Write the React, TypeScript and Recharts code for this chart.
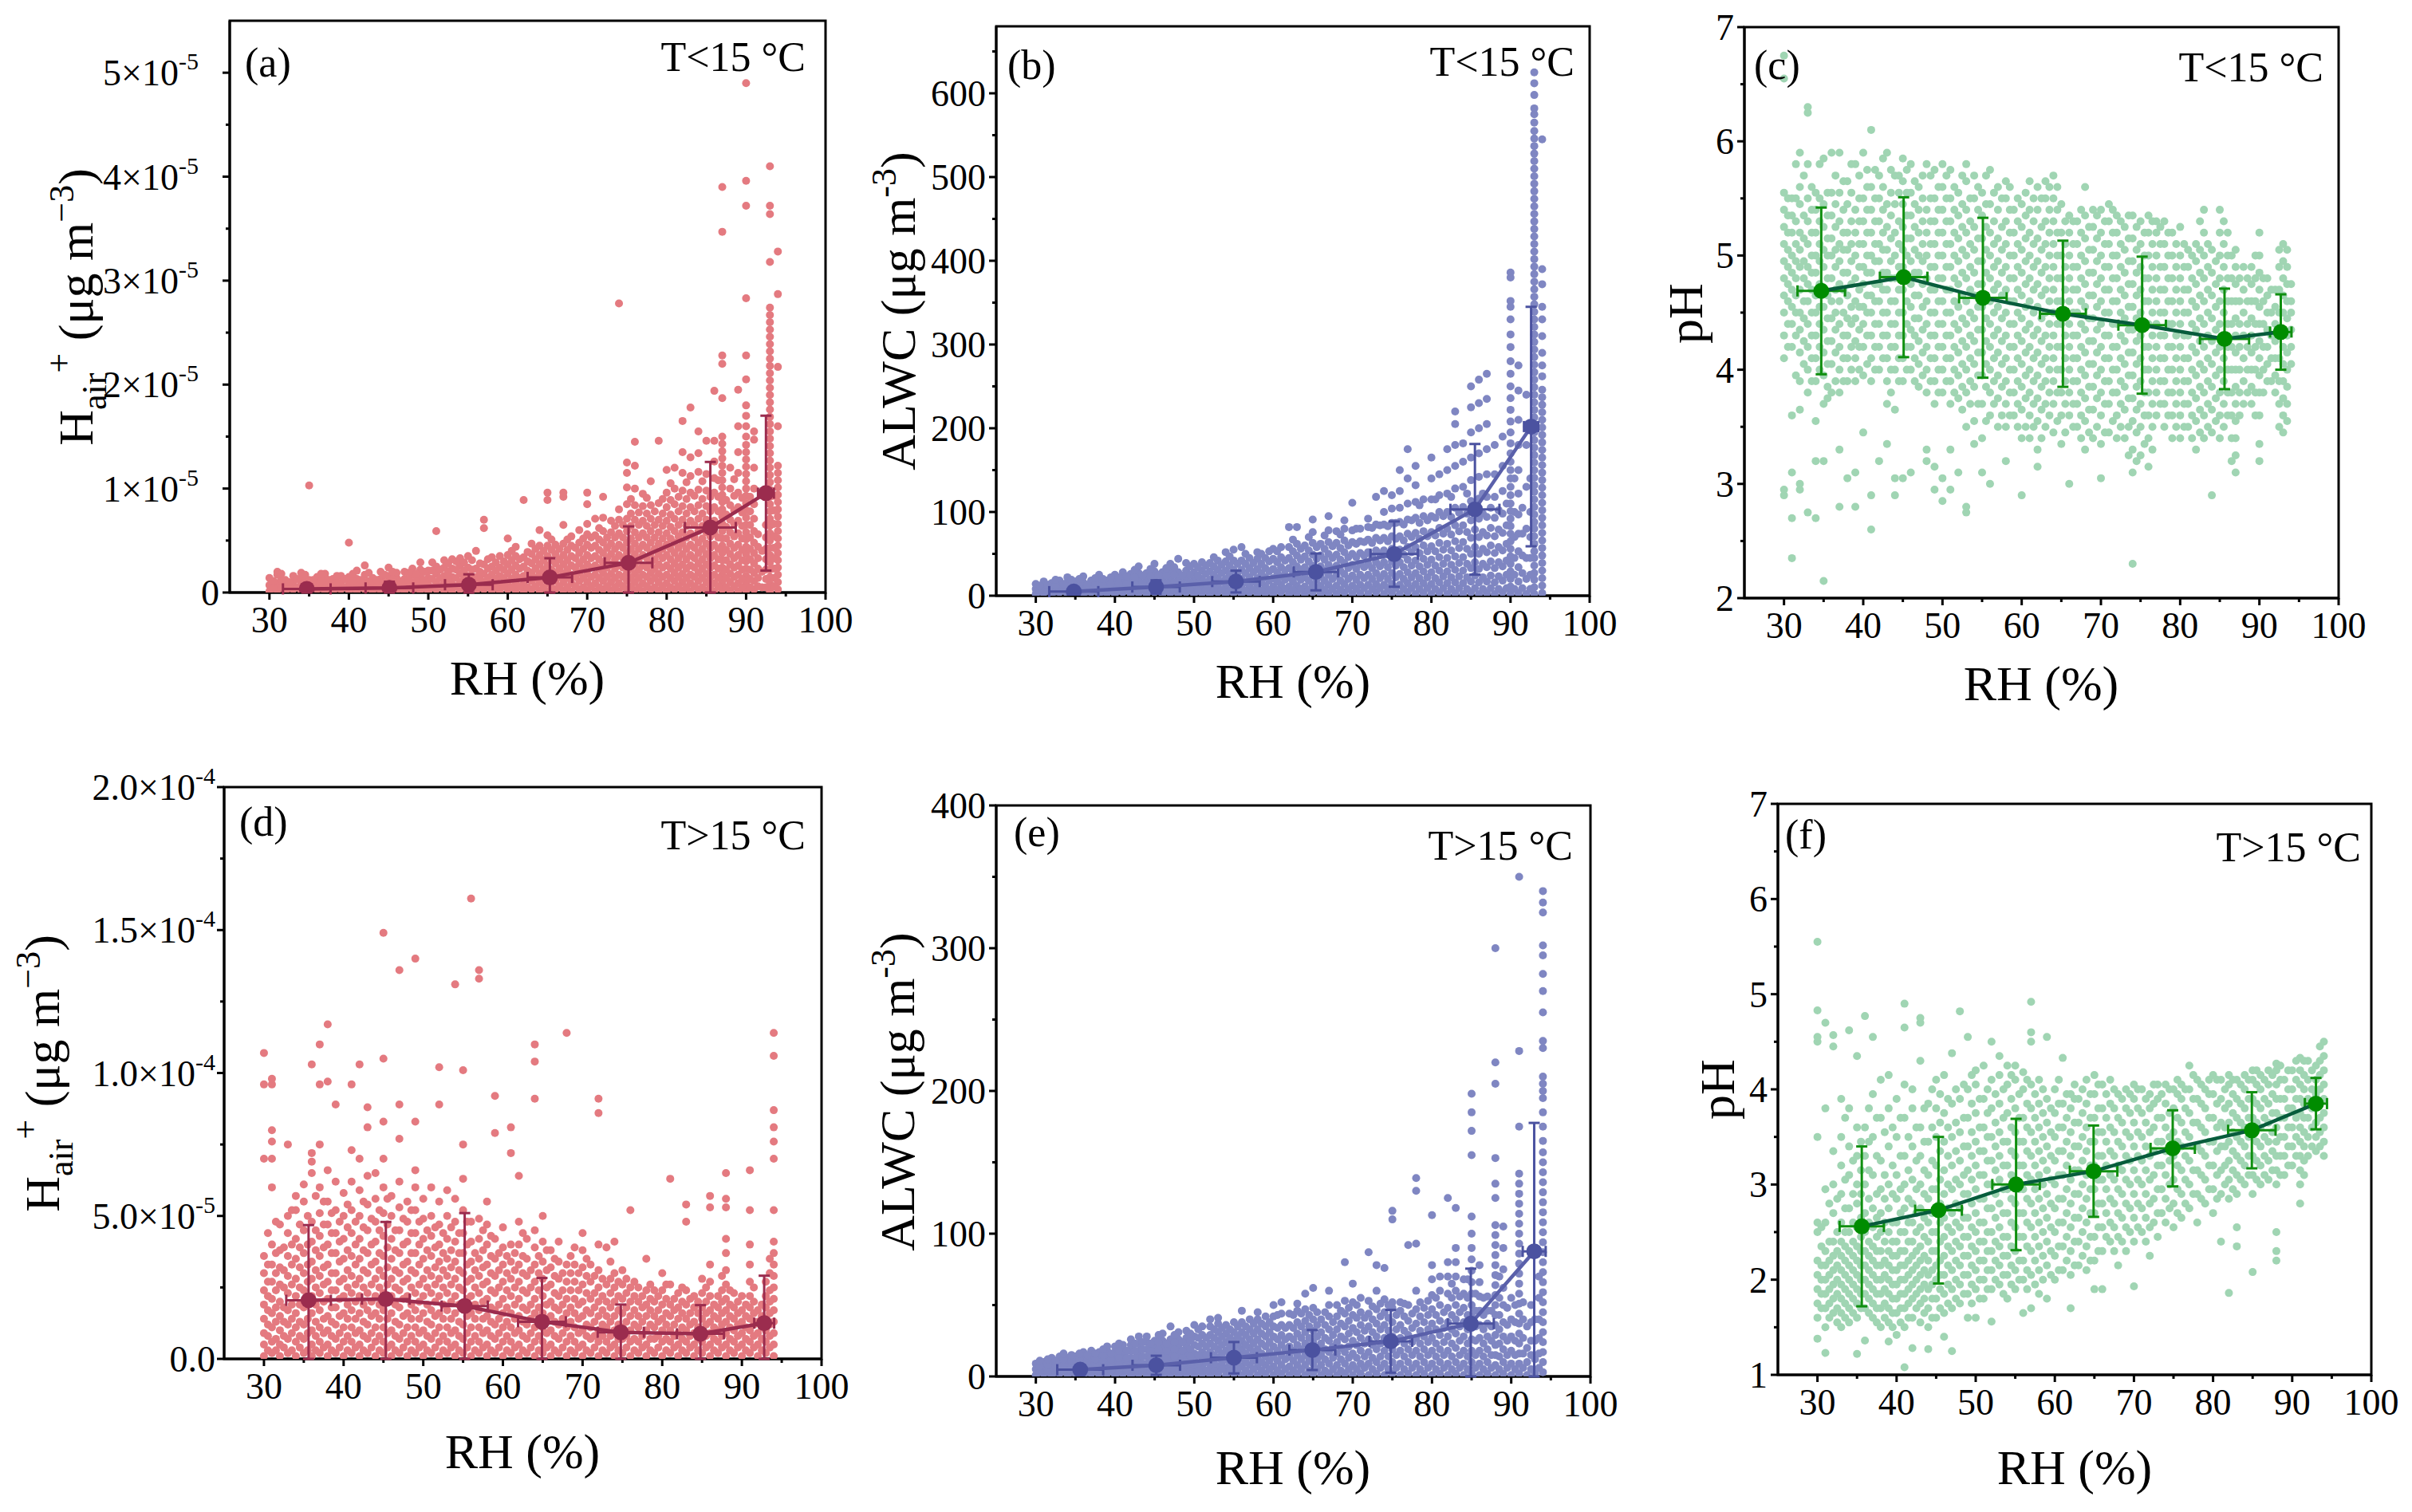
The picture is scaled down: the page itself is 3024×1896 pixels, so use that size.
import React from "react";
import { ScatterChart, Scatter, XAxis, YAxis, ErrorBar, ReferenceArea } from "recharts";

const FONT = "'Liberation Serif', 'Times New Roman', serif";

// ── shared axis ticks ────────────────────────────────────────────────────────
const rhTicks = [30, 35, 40, 45, 50, 55, 60, 65, 70, 75, 80, 85, 90, 95, 100];

// ── (a) H+air, T<15 °C  (values in 1e-6 µg m-3) ─────────────────────────────
const cloudA: [number, number[]][] = [
  [30, [0.1, 0.7, 1.4]], [31, [0.2, 0.9, 1.7, 2.0]], [32, [0.1, 0.6, 1.2]], [33, [0.3, 1.0, 1.6]],
  [34, [0.2, 0.8, 1.3, 1.9]], [35, [0.1, 0.6, 1.2, 10.3]], [36, [0.3, 0.9, 1.5]], [37, [0.2, 0.8, 1.4, 1.8]],
  [38, [0.1, 0.7, 1.3]], [39, [0.3, 0.9, 1.6]], [40, [0.2, 0.8, 1.5, 4.8]], [41, [0.1, 0.7, 1.3, 2.1]],
  [42, [0.3, 1.0, 1.7, 2.6]], [43, [0.2, 0.8, 1.4]], [44, [0.1, 0.7, 1.3, 2.0]], [45, [0.3, 0.9, 1.6, 2.4]],
  [46, [0.2, 0.8, 1.4, 1.9]], [47, [0.1, 0.7, 1.3, 2.0]], [48, [0.3, 1.0, 1.7, 2.3]], [49, [0.2, 0.8, 1.5, 2.2, 2.9]],
  [50, [0.1, 0.7, 1.4, 2.1]], [51, [0.3, 1.0, 1.8, 2.5, 5.9]], [52, [0.2, 0.9, 1.6, 2.4, 3.1]], [53, [0.1, 0.8, 1.5, 2.3, 3.2]],
  [54, [0.3, 1.0, 1.8, 2.6, 3.3]], [55, [0.2, 0.9, 1.6, 2.4, 3.5]], [56, [0.1, 0.8, 1.5, 2.3, 4.0]],
  [57, [0.3, 1.0, 1.8, 2.7, 6.2, 7.0]], [58, [0.2, 0.9, 1.7, 2.5, 3.4]], [59, [0.1, 0.8, 1.6, 2.4, 3.5]],
  [60, [0.3, 1.0, 1.8, 2.7, 3.6, 5.2]], [61, [0.2, 0.9, 1.7, 2.6, 3.5, 4.4]], [62, [0.1, 0.8, 1.6, 2.5, 3.4, 8.9]],
  [63, [0.3, 1.1, 1.9, 2.8, 3.7, 4.7]], [64, [0.2, 1.0, 1.8, 2.7, 3.6, 4.5, 6.0]],
  [65, [0.1, 0.9, 1.7, 2.6, 3.5, 4.5, 5.5, 8.9, 9.6]], [66, [0.3, 1.1, 1.9, 2.8, 3.7, 4.6]],
  [67, [0.2, 1.0, 1.8, 2.7, 3.6, 4.7, 6.5, 9.2, 9.6]], [68, [0.1, 0.9, 1.7, 2.6, 3.5, 4.5, 5.4]],
  [69, [0.3, 1.1, 1.9, 2.8, 3.8, 4.8, 6.0]], [70, [0.2, 1.0, 1.8, 2.7, 3.6, 4.6, 5.6, 6.6, 8.5, 9.6]],
  [71, [0.1, 0.9, 1.7, 2.6, 3.5, 4.5, 5.5, 7.1]], [72, [0.3, 1.1, 1.9, 2.8, 3.8, 4.8, 5.9, 7.2, 9.2]],
  [73, [0.2, 1.0, 1.8, 2.7, 3.7, 4.7, 5.8, 6.9]], [74, [0.1, 0.9, 1.7, 2.6, 3.6, 4.6, 5.7, 7.0, 8.0, 27.8]],
  [75, [0.3, 1.1, 1.9, 2.8, 3.8, 4.8, 5.9, 7.1, 8.5, 10.1, 11.5, 12.5]],
  [76, [0.2, 1.0, 1.8, 2.7, 3.7, 4.7, 5.8, 7.0, 8.4, 10.0, 12.2, 14.5]],
  [77, [0.1, 0.9, 1.7, 2.6, 3.6, 4.6, 5.7, 6.9, 8.3, 9.5]],
  [78, [0.3, 1.1, 1.9, 2.8, 3.8, 4.8, 5.9, 7.1, 8.4, 10.7]],
  [79, [0.2, 1.0, 1.8, 2.7, 3.7, 4.7, 5.8, 7.0, 8.6, 14.6]],
  [80, [0.1, 0.9, 1.7, 2.6, 3.6, 4.6, 5.7, 6.9, 8.2, 9.6, 11.8]],
  [81, [0.3, 1.1, 1.9, 2.8, 3.8, 4.8, 5.9, 7.1, 8.5, 10.0, 12.0]],
  [82, [0.2, 1.0, 1.8, 2.7, 3.7, 4.7, 5.8, 7.0, 8.3, 9.8, 11.5, 13.5, 16.5]],
  [83, [0.1, 0.9, 1.7, 2.6, 3.6, 4.6, 5.7, 6.9, 8.2, 9.6, 11.2, 13.0, 17.8]],
  [84, [0.3, 1.1, 1.9, 2.8, 3.8, 4.8, 5.9, 7.1, 8.4, 9.9, 11.6, 13.4, 15.5]],
  [85, [0.2, 1.0, 1.8, 2.7, 3.7, 4.7, 5.8, 7.0, 8.3, 9.8, 11.4, 14.6]],
  [86, [0.1, 0.9, 1.7, 2.6, 3.6, 4.6, 5.7, 6.9, 8.2, 9.6, 11.0, 12.6, 14.6, 19.4]],
  [87, [0.3, 1.0, 1.7, 2.4, 3.1, 3.8, 4.5, 5.2, 5.9, 6.6, 7.3, 8.0, 8.7, 9.4, 10.1, 10.8, 11.5, 12.2, 12.9, 13.6, 14.3, 15.0, 18.7, 22.0, 22.8, 34.7, 39.0]],
  [88, [0.2, 1.0, 1.8, 2.7, 3.7, 4.7, 5.8, 7.0, 8.4, 10.0, 12.0]],
  [89, [0.1, 0.9, 1.7, 2.6, 3.6, 4.6, 5.7, 6.9, 8.2, 9.6, 11.5, 13.5, 16.0, 19.5]],
  [90, [0.2, 0.9, 1.6, 2.3, 3.0, 3.7, 4.4, 5.1, 5.8, 6.5, 7.2, 7.9, 8.6, 9.3, 10.0, 10.7, 11.4, 12.1, 12.8, 13.5, 14.2, 15.0, 16.0, 17.0, 18.0, 20.5, 22.8, 28.3, 37.2, 39.6, 49.0]],
  [91, [0.3, 1.1, 1.9, 2.8, 3.8, 4.8, 5.9, 7.1, 8.5, 10.0, 12.0, 14.7, 15.5]],
  [92, [0.5, 2.0, 4.0]],
  [93, [0.1, 0.8, 1.5, 2.2, 2.9, 3.6, 4.3, 5.0, 5.7, 6.4, 7.1, 7.8, 8.5, 9.2, 9.9, 10.6, 11.3, 12.0, 12.7, 13.4, 14.1, 14.8, 15.5, 16.2, 16.9, 17.6, 18.3, 19.0, 19.7, 20.4, 21.1, 21.8, 22.5, 23.2, 23.9, 24.6, 25.3, 26.0, 26.7, 27.4, 31.8, 36.4, 37.2, 41.0]],
  [94, [0.3, 1.0, 1.7, 2.4, 3.1, 3.8, 4.5, 5.2, 5.9, 6.6, 7.3, 8.0, 8.7, 9.4, 10.1, 10.8, 11.5, 12.2, 16.0, 21.7, 28.7, 32.8]],
];
const cloudA2: [number, number[]][] = [
  [30.5, [0.4, 1.1]], [31.5, [0.5, 1.2, 1.8]], [32.5, [0.4, 1.0]], [33.5, [0.5, 1.3]], [34.5, [0.4, 1.1, 1.7]],
  [35.5, [0.5, 1.2]], [36.5, [0.4, 1.1, 1.8]], [37.5, [0.5, 1.2]], [38.5, [0.4, 1.0, 1.6]], [39.5, [0.5, 1.3]],
  [40.5, [0.4, 1.1, 1.8]], [41.5, [0.5, 1.2]], [42.5, [0.4, 1.1, 1.9]], [43.5, [0.5, 1.2]], [44.5, [0.4, 1.0, 1.7]],
  [45.5, [0.5, 1.3, 2.0]], [46.5, [0.4, 1.1]], [47.5, [0.5, 1.2, 1.9]], [48.5, [0.4, 1.1, 1.8]], [49.5, [0.5, 1.2, 2.0]],
  [50.5, [0.5, 1.3, 2.1, 2.9]], [51.5, [0.6, 1.4, 2.2]], [52.5, [0.5, 1.3, 2.0, 2.8]], [53.5, [0.6, 1.4, 2.2, 3.0]],
  [54.5, [0.5, 1.3, 2.1, 2.9]], [55.5, [0.6, 1.4, 2.2, 3.1]], [56.5, [0.5, 1.3, 2.0, 2.8]], [57.5, [0.6, 1.4, 2.3, 3.2]],
  [58.5, [0.5, 1.3, 2.1, 2.9]], [59.5, [0.6, 1.4, 2.2, 3.0]], [60.5, [0.5, 1.3, 2.2, 3.1, 4.0]],
  [61.5, [0.6, 1.4, 2.3, 3.2]], [62.5, [0.5, 1.3, 2.1, 3.0, 3.9]], [63.5, [0.6, 1.4, 2.3, 3.2, 4.2]],
  [64.5, [0.5, 1.3, 2.2, 3.1, 4.0]], [65.5, [0.5, 1.4, 2.2, 3.1, 4.1, 5.1]], [66.5, [0.6, 1.5, 2.3, 3.2, 4.2]],
  [67.5, [0.5, 1.4, 2.2, 3.1, 4.1, 5.1]], [68.5, [0.6, 1.5, 2.4, 3.3, 4.3]], [69.5, [0.5, 1.4, 2.3, 3.2, 4.2, 5.2]],
  [70.5, [0.6, 1.5, 2.4, 3.3, 4.3, 5.3]], [71.5, [0.5, 1.4, 2.3, 3.2, 4.1, 5.1, 6.2]],
  [72.5, [0.6, 1.5, 2.4, 3.3, 4.3, 5.3]], [73.5, [0.5, 1.4, 2.3, 3.2, 4.2, 5.3, 6.4]],
  [74.5, [0.6, 1.5, 2.4, 3.3, 4.3, 5.3, 6.5]], [75.5, [0.6, 1.4, 2.3, 3.2, 4.2, 5.2, 6.4, 7.6, 9.0]],
  [76.5, [0.5, 1.4, 2.2, 3.2, 4.2, 5.3, 6.5, 7.7]], [77.5, [0.6, 1.5, 2.4, 3.3, 4.3, 5.3, 6.4, 7.6, 9.1]],
  [78.5, [0.5, 1.4, 2.3, 3.2, 4.2, 5.3, 6.5, 7.8]], [79.5, [0.6, 1.5, 2.4, 3.3, 4.2, 5.2, 6.4, 7.6, 9.0]],
  [80.5, [0.5, 1.4, 2.3, 3.2, 4.2, 5.2, 6.3, 7.5, 8.9, 10.5]], [81.5, [0.6, 1.5, 2.4, 3.3, 4.3, 5.4, 6.5, 7.8, 9.2]],
  [82.5, [0.5, 1.4, 2.3, 3.2, 4.2, 5.3, 6.4, 7.6, 9.0, 10.6]], [83.5, [0.6, 1.5, 2.4, 3.3, 4.3, 5.3, 6.5, 7.8, 9.3]],
  [84.5, [0.5, 1.4, 2.3, 3.2, 4.2, 5.2, 6.4, 7.6, 9.0, 10.7]], [85.5, [0.6, 1.5, 2.4, 3.3, 4.3, 5.4, 6.5, 7.8, 9.2]],
  [86.5, [0.6, 1.4, 2.3, 3.2, 4.2, 5.3, 6.5, 7.8, 9.2, 10.8]], [87.5, [0.5, 1.4, 2.2, 3.1, 4.1, 5.2, 6.3, 7.5, 8.9]],
  [88.5, [0.6, 1.5, 2.4, 3.3, 4.3, 5.4, 6.6, 7.9, 9.3, 10.9]], [89.5, [0.5, 1.3, 2.2, 3.1, 4.1, 5.2, 6.4, 7.7, 9.1]],
  [90.5, [0.5, 1.3, 2.2, 3.2, 4.2, 5.3, 6.5, 7.8, 9.2]], [91.5, [0.6, 1.4, 2.3, 3.3, 4.4, 5.6]],
  [92.5, [0.5, 1.3, 2.2, 3.2, 4.2, 5.3, 6.5]], [93.5, [0.6, 1.4, 2.3, 3.3, 4.3, 5.4, 6.6, 7.9, 9.3]],
];
const meanRhA = [34.7, 45.1, 55.1, 65.3, 75.2, 85.5, 92.5];
const meanA = [0.35, 0.44, 0.75, 1.45, 2.86, 6.26, 9.56];
const sdA = [0.4, 0.6, 1.0, 1.85, 3.5, 6.3, 7.45];
const sdRhA = [3.0, 3.0, 3.0, 2.8, 3.0, 3.2, 1.0];

// ── (b) ALWC, T<15 °C ───────────────────────────────────────────────────────
const cloudB: [number, number[]][] = [
  [30, [2, 8, 14]], [31, [3, 10, 17]], [32, [2, 9, 15]], [33, [4, 11, 18]], [34, [2, 9, 16, 22]],
  [35, [3, 10, 17]], [36, [2, 9, 16, 23]], [37, [4, 11, 18]], [38, [2, 9, 17, 25]], [39, [3, 10, 18]],
  [40, [2, 9, 17, 25]], [41, [4, 12, 20, 28]], [42, [2, 10, 18, 26]], [43, [3, 11, 19, 27, 35]],
  [44, [2, 10, 18, 27]], [45, [4, 12, 20, 29, 38]], [46, [2, 10, 19, 28]], [47, [3, 11, 20, 29, 38]],
  [48, [2, 10, 19, 28, 44]], [49, [4, 12, 21, 30, 39]], [50, [2, 10, 19, 28, 38]], [51, [3, 11, 20, 30, 40]],
  [52, [2, 10, 19, 29, 39]], [53, [4, 12, 21, 31, 42]], [54, [2, 10, 20, 30, 41, 52]], [55, [3, 11, 21, 31, 42, 55]],
  [56, [2, 10, 20, 31, 42, 58]], [57, [4, 12, 22, 33, 45]], [58, [2, 11, 21, 32, 44, 52]], [59, [3, 12, 22, 33, 45]],
  [60, [2, 11, 21, 32, 44, 56]], [61, [4, 13, 23, 34, 46, 58]], [62, [2, 11, 22, 33, 45, 58, 82]],
  [63, [3, 12, 23, 35, 48, 62, 82]], [64, [2, 11, 22, 34, 47, 60]], [65, [4, 13, 24, 36, 49, 63, 76, 91]],
  [66, [2, 12, 23, 35, 48, 62]], [67, [3, 13, 25, 37, 50, 64, 78, 95]], [68, [2, 12, 24, 36, 49, 63, 77]],
  [69, [4, 14, 26, 39, 52, 66, 80, 90]], [70, [2, 12, 24, 37, 50, 64, 78, 111]], [71, [3, 13, 25, 38, 51, 65, 80]],
  [72, [2, 13, 25, 38, 52, 67, 82, 92]], [73, [4, 14, 27, 40, 54, 69, 85, 118]],
  [74, [2, 13, 26, 40, 54, 69, 85, 100, 125]], [75, [3, 14, 27, 41, 56, 71, 87, 104, 120]],
  [76, [2, 13, 26, 40, 55, 71, 88, 105, 125, 150]], [77, [4, 15, 28, 43, 58, 74, 91, 110, 140, 175]],
  [78, [2, 14, 27, 42, 58, 75, 93, 112, 132, 155]], [79, [3, 15, 29, 44, 60, 77, 95, 115]],
  [80, [2, 14, 28, 43, 59, 76, 95, 115, 140, 165]], [81, [4, 16, 30, 46, 63, 81, 100, 120, 145]],
  [82, [2, 15, 29, 45, 62, 80, 100, 122, 150, 175]], [83, [3, 16, 31, 47, 65, 84, 105, 128, 155, 180, 205, 220]],
  [84, [2, 15, 30, 46, 64, 84, 106, 130, 160, 182]], [85, [4, 17, 33, 50, 69, 90, 113, 138, 165, 195, 225, 250]],
  [86, [2, 16, 32, 50, 70, 92, 116, 142, 170, 200, 230, 258]], [87, [3, 17, 34, 52, 72, 94, 118, 145, 175, 205, 235, 265]],
  [88, [2, 16, 33, 51, 71, 93, 118, 145, 180]], [89, [4, 18, 35, 54, 75, 98, 125, 155, 190]],
  [90, [2, 11, 20, 29, 38, 47, 56, 65, 74, 83, 92, 101, 110, 120, 130, 140, 150, 160, 170, 182, 195, 208, 222, 236, 250, 265, 280, 297, 312, 330, 345, 352, 380, 386]],
  [91, [3, 17, 34, 53, 74, 97, 122, 150, 180, 210, 245, 275]],
  [92, [2, 20, 45, 80, 130, 180, 240]],
  [93, [2, 10, 19, 27, 36, 45, 53, 62, 71, 80, 88, 97, 106, 115, 124, 132, 141, 150, 159, 168, 177, 186, 195, 204, 213, 222, 231, 240, 249, 258, 267, 276, 285, 294, 303, 312, 321, 330, 339, 348, 357, 366, 375, 384, 393, 402, 411, 420, 429, 438, 447, 456, 465, 474, 483, 492, 501, 510, 519, 528, 537, 546, 555, 565, 575, 582, 598, 612, 625]],
  [94, [3, 12, 21, 30, 39, 48, 57, 66, 75, 84, 93, 102, 111, 120, 129, 138, 147, 156, 165, 174, 183, 192, 201, 210, 219, 228, 237, 246, 262, 275, 290, 310, 330, 345, 372, 390, 545]],
];
const cloudB2: [number, number[]][] = [
  [30.5, [5, 12]], [31.5, [6, 13]], [32.5, [5, 12, 19]], [33.5, [6, 14]], [34.5, [5, 12, 19]],
  [35.5, [6, 13, 20]], [36.5, [5, 13]], [37.5, [6, 14, 21]], [38.5, [5, 13, 20]], [39.5, [6, 14, 22]],
  [40.5, [6, 14, 22]], [41.5, [7, 15, 23]], [42.5, [6, 14, 22, 31]], [43.5, [7, 15, 24]], [44.5, [6, 14, 23, 32]],
  [45.5, [7, 16, 25]], [46.5, [6, 15, 24, 33]], [47.5, [7, 16, 25, 34]], [48.5, [6, 15, 24]], [49.5, [7, 16, 25, 35]],
  [50.5, [6, 15, 24, 34]], [51.5, [7, 16, 26, 36]], [52.5, [6, 15, 25, 35, 46]], [53.5, [7, 17, 27, 37]],
  [54.5, [6, 16, 26, 36, 47]], [55.5, [7, 17, 27, 38]], [56.5, [6, 16, 27, 38, 50]], [57.5, [7, 17, 28, 39]],
  [58.5, [6, 16, 27, 38, 50]], [59.5, [7, 18, 29, 41, 53]], [60.5, [7, 17, 28, 40, 53]], [61.5, [8, 19, 30, 42]],
  [62.5, [7, 17, 28, 40, 53, 67]], [63.5, [8, 19, 31, 43, 56]], [64.5, [7, 18, 29, 41, 54, 70]],
  [65.5, [8, 19, 31, 44, 58]], [66.5, [7, 18, 30, 43, 56, 72]], [67.5, [8, 20, 32, 45, 59]],
  [68.5, [7, 18, 30, 43, 57, 73]], [69.5, [8, 20, 33, 46, 60]], [70.5, [8, 19, 32, 46, 62, 80]],
  [71.5, [9, 21, 34, 48, 64]], [72.5, [8, 20, 33, 47, 63, 81]], [73.5, [9, 21, 35, 50, 66, 84]],
  [74.5, [8, 20, 34, 49, 65, 83]], [75.5, [9, 22, 36, 51, 68, 87]], [76.5, [8, 20, 34, 49, 66, 85]],
  [77.5, [9, 22, 36, 52, 70, 90]], [78.5, [8, 21, 35, 51, 68, 87, 108]], [79.5, [9, 22, 37, 53, 71, 90]],
  [80.5, [8, 21, 36, 53, 72, 93, 115]], [81.5, [9, 23, 38, 55, 74, 95]], [82.5, [8, 22, 37, 54, 73, 94, 118]],
  [83.5, [9, 23, 39, 57, 77, 99]], [84.5, [8, 22, 38, 56, 76, 98, 122]], [85.5, [9, 24, 40, 58, 79, 102]],
  [86.5, [8, 22, 38, 56, 76, 98, 122]], [87.5, [9, 24, 41, 60, 81, 105]], [88.5, [8, 23, 40, 58, 79, 102]],
  [89.5, [9, 25, 42, 62, 84, 110]], [90.5, [8, 25, 45, 70, 100, 140]], [91.5, [9, 27, 48, 74, 105]],
  [92.5, [8, 25, 45, 70, 100, 140]],
];
const meanRhB = [34.8, 45.2, 55.3, 65.4, 75.3, 85.5, 92.6];
const meanB = [4.9, 10.4, 16.9, 28.4, 49.7, 103.2, 202];
const sdB = [3, 8, 13, 22, 39, 78, 143];
const sdRhB = [3.1, 3.0, 3.0, 2.8, 3.0, 3.1, 0.9];

// ── (c) pH, T<15 °C ─────────────────────────────────────────────────────────
const cloudC: [number, number[]][] = [
  [30, [4.1, 4.3, 4.5, 4.65, 4.8, 4.95, 5.1, 5.25, 5.4, 5.55, 2.9, 2.95, 6.55, 6.75]],
  [31, [3.6, 4.2, 4.4, 4.55, 4.7, 4.85, 5.0, 5.2, 5.35, 5.5, 2.35, 2.7, 3.1]],
  [32, [3.65, 3.9, 4.15, 4.35, 4.5, 4.7, 4.9, 5.05, 5.2, 5.45, 5.6, 5.9, 2.95, 3.0]],
  [33, [3.8, 4.0, 4.2, 4.4, 4.6, 4.75, 4.9, 5.1, 5.3, 5.5, 5.8, 2.75, 6.25, 6.3]],
  [34, [3.9, 4.1, 4.3, 4.5, 4.65, 4.85, 5.0, 5.2, 5.4, 5.55, 2.7, 3.2, 3.55]],
  [35, [3.7, 3.95, 4.15, 4.35, 4.55, 4.7, 4.9, 5.05, 5.25, 5.45, 5.85, 2.15, 3.2]],
  [36, [3.8, 4.05, 4.25, 4.45, 4.6, 4.8, 5.0, 5.15, 5.35, 5.55, 5.9]],
  [37, [3.8, 4.0, 4.2, 4.4, 4.6, 4.75, 4.95, 5.1, 5.3, 5.55, 5.9, 2.8, 3.3]],
  [38, [3.9, 4.1, 4.3, 4.45, 4.65, 4.85, 5.05, 5.2, 5.45, 5.65, 3.05]],
  [39, [3.9, 4.1, 4.25, 4.45, 4.6, 4.8, 5.0, 5.2, 5.4, 5.8, 2.8, 3.1]],
  [40, [3.95, 4.2, 4.4, 4.55, 4.75, 4.9, 5.1, 5.3, 5.5, 5.9, 3.45]],
  [41, [3.9, 4.1, 4.3, 4.5, 4.65, 4.85, 5.0, 5.2, 5.4, 5.6, 6.1, 2.6, 2.9]],
  [42, [4.0, 4.2, 4.4, 4.6, 4.75, 4.95, 5.1, 5.3, 5.5, 5.7, 3.2]],
  [43, [3.7, 3.9, 4.1, 4.3, 4.5, 4.7, 4.85, 5.05, 5.25, 5.45, 5.9, 3.35]],
  [44, [3.65, 4.0, 4.2, 4.4, 4.6, 4.8, 5.0, 5.2, 5.45, 5.7, 2.9, 3.05]],
  [45, [3.9, 4.1, 4.3, 4.5, 4.7, 4.9, 5.05, 5.25, 5.45, 5.65, 5.85, 3.05]],
  [46, [4.0, 4.2, 4.35, 4.55, 4.75, 4.95, 5.15, 5.35, 5.55, 5.8, 3.1]],
  [47, [3.85, 4.05, 4.25, 4.45, 4.65, 4.85, 5.0, 5.2, 5.4, 5.6]],
  [48, [3.8, 4.0, 4.2, 4.4, 4.6, 4.8, 5.0, 5.2, 5.4, 5.8, 3.2, 3.3]],
  [49, [3.7, 3.9, 4.1, 4.3, 4.5, 4.7, 4.9, 5.1, 5.3, 5.5, 5.75, 2.95, 3.15]],
  [50, [3.8, 4.0, 4.2, 4.4, 4.6, 4.8, 5.0, 5.2, 5.4, 5.6, 5.8, 2.85, 3.05]],
  [51, [3.7, 3.9, 4.1, 4.3, 4.5, 4.7, 4.9, 5.1, 5.3, 5.5, 5.75, 3.3, 2.95]],
  [52, [3.75, 3.95, 4.15, 4.35, 4.55, 4.75, 4.95, 5.15, 5.35, 5.55, 3.1]],
  [53, [3.5, 3.8, 4.0, 4.2, 4.4, 4.6, 4.8, 5.0, 5.2, 5.4, 5.65, 5.8, 2.8, 2.75]],
  [54, [3.55, 3.85, 4.05, 4.25, 4.45, 4.65, 4.85, 5.05, 5.25, 5.5, 5.7, 3.35]],
  [55, [3.4, 3.7, 3.95, 4.15, 4.35, 4.55, 4.75, 4.95, 5.15, 5.35, 5.55, 3.1]],
  [56, [3.6, 3.8, 4.0, 4.2, 4.4, 4.6, 4.8, 5.0, 5.2, 5.45, 5.75, 3.0]],
  [57, [3.5, 3.75, 3.95, 4.15, 4.35, 4.55, 4.75, 4.95, 5.15, 5.4, 5.6]],
  [58, [3.5, 3.7, 3.9, 4.1, 4.3, 4.5, 4.7, 4.9, 5.1, 5.3, 5.5, 5.65, 3.2]],
  [59, [3.6, 3.8, 4.0, 4.2, 4.4, 4.6, 4.8, 5.0, 5.2, 5.4]],
  [60, [3.4, 3.65, 3.85, 4.05, 4.25, 4.45, 4.65, 4.85, 5.05, 5.25, 5.45, 2.9]],
  [61, [3.4, 3.6, 3.8, 4.0, 4.2, 4.4, 4.6, 4.8, 5.0, 5.2, 5.4, 5.65]],
  [62, [3.3, 3.55, 3.75, 3.95, 4.15, 4.35, 4.55, 4.75, 4.95, 5.15, 5.4, 5.6, 3.15]],
  [63, [3.5, 3.7, 3.9, 4.1, 4.3, 4.5, 4.7, 4.9, 5.1, 5.3, 5.5, 5.65]],
  [64, [3.45, 3.7, 3.9, 4.1, 4.3, 4.5, 4.7, 4.9, 5.1, 5.3, 5.5, 5.7]],
  [65, [3.35, 3.6, 3.8, 4.0, 4.2, 4.4, 4.6, 4.8, 5.0, 5.2, 5.45]],
  [66, [3.6, 3.8, 4.0, 4.2, 4.4, 4.6, 4.8, 5.0, 5.2, 5.35, 3.0]],
  [67, [3.5, 3.7, 3.9, 4.1, 4.3, 4.5, 4.7, 4.9, 5.1, 5.3]],
  [68, [3.3, 3.55, 3.75, 3.95, 4.15, 4.35, 4.55, 4.75, 4.95, 5.15, 5.35, 5.6]],
  [69, [3.4, 3.65, 3.85, 4.05, 4.25, 4.45, 4.65, 4.85, 5.05, 5.25, 5.4]],
  [70, [3.35, 3.6, 3.8, 4.0, 4.2, 4.4, 4.6, 4.8, 5.0, 5.2, 5.4, 3.05]],
  [71, [3.45, 3.7, 3.9, 4.1, 4.3, 4.5, 4.7, 4.9, 5.1, 5.3, 5.45]],
  [72, [3.4, 3.6, 3.8, 4.0, 4.2, 4.4, 4.6, 4.8, 5.0, 5.2, 5.35]],
  [73, [3.4, 3.65, 3.85, 4.05, 4.25, 4.45, 4.65, 4.85, 5.05, 5.25]],
  [74, [3.1, 3.3, 3.55, 3.75, 3.95, 4.15, 4.35, 4.55, 4.75, 4.95, 5.15, 5.35, 2.3]],
  [75, [3.25, 3.5, 3.7, 3.9, 4.1, 4.3, 4.5, 4.7, 4.9, 5.1, 5.3]],
  [76, [3.15, 3.4, 3.6, 3.8, 4.0, 4.2, 4.4, 4.6, 4.8, 5.0, 5.2, 5.35]],
  [77, [3.6, 3.8, 4.0, 4.2, 4.4, 4.6, 4.8, 5.0, 5.2, 5.3]],
  [78, [3.5, 3.7, 3.9, 4.1, 4.3, 4.5, 4.7, 4.9, 5.1, 5.3]],
  [79, [3.4, 3.6, 3.8, 4.0, 4.2, 4.4, 4.6, 4.8, 5.0, 5.2]],
  [80, [3.4, 3.6, 3.8, 4.0, 4.2, 4.4, 4.6, 4.8, 5.0, 5.25]],
  [81, [3.5, 3.7, 3.9, 4.1, 4.3, 4.5, 4.7, 4.9, 5.05]],
  [82, [3.3, 3.55, 3.75, 3.95, 4.15, 4.35, 4.55, 4.75, 4.95, 5.1]],
  [83, [3.4, 3.6, 3.8, 4.0, 4.2, 4.4, 4.6, 4.8, 5.0, 5.2, 5.4]],
  [84, [3.45, 3.65, 3.85, 4.05, 4.25, 4.45, 4.65, 4.85, 5.05, 2.9]],
  [85, [3.4, 3.6, 3.8, 4.0, 4.2, 4.4, 4.6, 4.8, 5.0, 5.2, 5.4]],
  [86, [3.6, 3.8, 4.0, 4.2, 4.4, 4.6, 4.8, 5.0, 5.2]],
  [87, [3.1, 3.25, 3.4, 3.55, 3.7, 3.85, 4.0, 4.15, 4.3, 4.45, 4.6, 4.75, 4.9, 5.05]],
  [88, [3.7, 3.9, 4.1, 4.3, 4.5, 4.7, 4.9]],
  [89, [3.7, 3.85, 4.0, 4.15, 4.3, 4.45, 4.6, 4.75, 4.9]],
  [90, [3.2, 3.35, 3.6, 3.8, 3.95, 4.1, 4.25, 4.4, 4.55, 4.7, 4.85, 5.0, 5.2]],
  [91, [3.9, 4.05, 4.2, 4.35, 4.5, 4.65, 4.8]],
  [92, [3.8, 3.95, 4.1, 4.25, 4.4, 4.55, 4.7]],
  [93, [3.45, 3.6, 3.75, 3.9, 4.05, 4.2, 4.35, 4.5, 4.65, 4.8, 4.95, 5.1]],
  [94, [4.05, 4.2, 4.35, 4.5, 4.6, 4.75]],
];
const cloudC2: [number, number[]][] = [
  [30.5, [4.2, 4.4, 4.6, 4.75, 4.9, 5.05, 5.2, 5.35, 5.5]],
  [31.5, [3.95, 4.3, 4.5, 4.65, 4.8, 4.95, 5.1, 5.3, 5.5, 5.8]],
  [32.5, [4.05, 4.25, 4.45, 4.6, 4.8, 4.95, 5.15, 5.35, 5.7]],
  [33.5, [3.9, 4.1, 4.3, 4.5, 4.7, 4.85, 5.0, 5.2, 5.4, 5.6]],
  [34.5, [4.0, 4.2, 4.4, 4.55, 4.75, 4.95, 5.1, 5.3, 5.5, 5.8]],
  [35.5, [3.75, 3.85, 4.05, 4.25, 4.45, 4.65, 4.8, 5.0, 5.15, 5.35, 5.55]],
  [36.5, [3.9, 4.15, 4.35, 4.5, 4.7, 4.9, 5.05, 5.25, 5.45, 5.7]],
  [37.5, [3.9, 4.1, 4.3, 4.5, 4.7, 4.85, 5.05, 5.2, 5.4, 5.65]],
  [38.5, [4.0, 4.2, 4.4, 4.55, 4.75, 4.95, 5.1, 5.3, 5.55, 5.8]],
  [39.5, [4.0, 4.2, 4.35, 4.55, 4.7, 4.9, 5.1, 5.3, 5.5, 5.7]],
  [40.5, [4.05, 4.3, 4.5, 4.65, 4.85, 5.0, 5.2, 5.4, 5.6, 5.75]],
  [41.5, [4.0, 4.2, 4.4, 4.6, 4.75, 4.95, 5.1, 5.3, 5.5, 5.75]],
  [42.5, [4.1, 4.3, 4.5, 4.7, 4.85, 5.05, 5.2, 5.4, 5.6, 5.85]],
  [43.5, [3.8, 4.0, 4.2, 4.4, 4.6, 4.8, 4.95, 5.15, 5.35, 5.55, 5.75]],
  [44.5, [3.9, 4.1, 4.3, 4.5, 4.7, 4.9, 5.1, 5.3, 5.55, 5.7]],
  [45.5, [4.0, 4.2, 4.4, 4.6, 4.8, 5.0, 5.15, 5.35, 5.55, 5.75]],
  [46.5, [3.9, 4.1, 4.3, 4.45, 4.65, 4.85, 5.05, 5.25, 5.45, 5.65]],
  [47.5, [3.95, 4.15, 4.35, 4.55, 4.75, 4.95, 5.1, 5.3, 5.5, 5.7]],
  [48.5, [3.9, 4.1, 4.3, 4.5, 4.7, 4.9, 5.1, 5.3, 5.5, 5.7]],
  [49.5, [3.8, 4.0, 4.2, 4.4, 4.6, 4.8, 5.0, 5.2, 5.4, 5.6]],
  [50.5, [3.9, 4.1, 4.3, 4.5, 4.7, 4.9, 5.1, 5.3, 5.5, 5.7]],
  [51.5, [3.8, 4.0, 4.2, 4.4, 4.6, 4.8, 5.0, 5.2, 5.4, 5.6]],
  [52.5, [3.65, 3.85, 4.05, 4.25, 4.45, 4.65, 4.85, 5.05, 5.25, 5.45, 5.7]],
  [53.5, [3.7, 3.9, 4.1, 4.3, 4.5, 4.7, 4.9, 5.1, 5.3, 5.5]],
  [54.5, [3.7, 3.95, 4.15, 4.35, 4.55, 4.75, 4.95, 5.15, 5.4, 5.6]],
  [55.5, [3.55, 3.85, 4.05, 4.25, 4.45, 4.65, 4.85, 5.05, 5.25, 5.45, 5.7]],
  [56.5, [3.7, 3.9, 4.1, 4.3, 4.5, 4.7, 4.9, 5.1, 5.3, 5.55]],
  [57.5, [3.6, 3.85, 4.05, 4.25, 4.45, 4.65, 4.85, 5.05, 5.25, 5.5]],
  [58.5, [3.6, 3.8, 4.0, 4.2, 4.4, 4.6, 4.8, 5.0, 5.2, 5.4, 5.6]],
  [59.5, [3.5, 3.7, 3.9, 4.1, 4.3, 4.5, 4.7, 4.9, 5.1, 5.3, 5.5]],
  [60.5, [3.5, 3.75, 3.95, 4.15, 4.35, 4.55, 4.75, 4.95, 5.15, 5.35, 5.55]],
  [61.5, [3.5, 3.7, 3.9, 4.1, 4.3, 4.5, 4.7, 4.9, 5.1, 5.3, 5.5]],
  [62.5, [3.4, 3.65, 3.85, 4.05, 4.25, 4.45, 4.65, 4.85, 5.05, 5.25, 5.5]],
  [63.5, [3.6, 3.8, 4.0, 4.2, 4.4, 4.6, 4.8, 5.0, 5.2, 5.4, 5.6]],
  [64.5, [3.55, 3.8, 4.0, 4.2, 4.4, 4.6, 4.8, 5.0, 5.2, 5.4, 5.6]],
  [65.5, [3.45, 3.7, 3.9, 4.1, 4.3, 4.5, 4.7, 4.9, 5.1, 5.3]],
  [66.5, [3.5, 3.7, 3.9, 4.1, 4.3, 4.5, 4.7, 4.9, 5.1, 5.3]],
  [67.5, [3.4, 3.6, 3.8, 4.0, 4.2, 4.4, 4.6, 4.8, 5.0, 5.2, 5.4]],
  [68.5, [3.45, 3.65, 3.85, 4.05, 4.25, 4.45, 4.65, 4.85, 5.05, 5.25]],
  [69.5, [3.5, 3.75, 3.95, 4.15, 4.35, 4.55, 4.75, 4.95, 5.15, 5.35]],
  [70.5, [3.45, 3.7, 3.9, 4.1, 4.3, 4.5, 4.7, 4.9, 5.1, 5.3]],
  [71.5, [3.55, 3.8, 4.0, 4.2, 4.4, 4.6, 4.8, 5.0, 5.2, 5.4]],
  [72.5, [3.5, 3.7, 3.9, 4.1, 4.3, 4.5, 4.7, 4.9, 5.1, 5.3]],
  [73.5, [3.25, 3.5, 3.75, 3.95, 4.15, 4.35, 4.55, 4.75, 4.95, 5.15, 5.35]],
  [74.5, [3.2, 3.45, 3.65, 3.85, 4.05, 4.25, 4.45, 4.65, 4.85, 5.05, 5.25]],
  [75.5, [3.35, 3.6, 3.8, 4.0, 4.2, 4.4, 4.6, 4.8, 5.0, 5.2]],
  [76.5, [3.3, 3.5, 3.7, 3.9, 4.1, 4.3, 4.5, 4.7, 4.9, 5.1, 5.3]],
  [77.5, [3.7, 3.9, 4.1, 4.3, 4.5, 4.7, 4.9, 5.1, 5.25]],
  [78.5, [3.6, 3.8, 4.0, 4.2, 4.4, 4.6, 4.8, 5.0, 5.2]],
  [79.5, [3.5, 3.7, 3.9, 4.1, 4.3, 4.5, 4.7, 4.9, 5.1]],
  [80.5, [3.5, 3.7, 3.9, 4.1, 4.3, 4.5, 4.7, 4.9, 5.1]],
  [81.5, [3.4, 3.6, 3.8, 4.0, 4.2, 4.4, 4.6, 4.8, 5.0]],
  [82.5, [3.45, 3.65, 3.85, 4.05, 4.25, 4.45, 4.65, 4.85, 5.05, 5.3]],
  [83.5, [3.5, 3.7, 3.9, 4.1, 4.3, 4.5, 4.7, 4.9, 5.1]],
  [84.5, [3.55, 3.75, 3.95, 4.15, 4.35, 4.55, 4.75, 4.95]],
  [85.5, [3.5, 3.7, 3.9, 4.1, 4.3, 4.5, 4.7, 4.9, 5.1, 5.3]],
  [86.5, [3.2, 3.4, 3.6, 3.8, 4.0, 4.2, 4.4, 4.6, 4.8, 5.0]],
  [87.5, [3.6, 3.8, 4.0, 4.2, 4.4, 4.6, 4.8]],
  [88.5, [3.8, 4.0, 4.2, 4.4, 4.6, 4.8]],
  [89.5, [3.6, 3.8, 4.0, 4.2, 4.4, 4.6, 4.8, 5.0]],
  [90.5, [3.8, 4.0, 4.2, 4.4, 4.6, 4.8]],
  [91.5, [3.9, 4.1, 4.3, 4.5, 4.7]],
  [92.5, [3.5, 3.7, 3.9, 4.1, 4.3, 4.5, 4.7, 4.9, 5.05]],
  [93.5, [3.55, 3.7, 3.85, 4.0, 4.15, 4.3, 4.45, 4.6, 4.75, 4.9, 5.05]],
];
const meanRhC = [34.7, 45.1, 55.1, 65.2, 75.2, 85.6, 92.7];
const meanC = [4.69, 4.81, 4.63, 4.49, 4.39, 4.27, 4.33];
const sdC = [0.73, 0.7, 0.7, 0.64, 0.6, 0.44, 0.33];
const sdRhC = [3.0, 3.0, 3.0, 2.9, 3.0, 3.1, 1.35];

// ── (d) H+air, T>15 °C  (values in 1e-6 µg m-3) ─────────────────────────────
const cloudD: [number, number[]][] = [
  [30, [1, 5, 9, 14, 19, 24, 30, 36, 70, 96, 107]], [31, [2, 6, 11, 16, 21, 27, 33, 40, 60, 70, 76, 80, 96, 98]],
  [32, [1, 5, 10, 15, 20, 26, 32, 38, 47]], [33, [2, 7, 12, 17, 23, 29, 36, 44, 50, 75]],
  [34, [1, 6, 11, 16, 22, 28, 35, 42, 52, 57]], [35, [2, 7, 12, 18, 24, 30, 37, 45, 55, 61]],
  [36, [1, 5, 10, 16, 22, 28, 34, 41, 48, 65, 69, 72, 103]], [37, [2, 6, 11, 17, 23, 29, 36, 43, 51, 60, 75, 96, 110]],
  [38, [1, 5, 10, 15, 21, 27, 33, 40, 47, 55, 66, 97, 117]], [39, [2, 7, 12, 18, 24, 30, 37, 44, 52, 62, 89]],
  [40, [1, 6, 11, 16, 22, 28, 35, 42, 50, 58]], [41, [2, 6, 11, 17, 23, 29, 36, 44, 52, 62, 73, 96]],
  [42, [1, 5, 10, 16, 22, 28, 35, 42, 50, 59, 70, 103]], [43, [2, 7, 12, 17, 23, 30, 37, 45, 54, 64, 81, 88]],
  [44, [1, 6, 11, 16, 22, 28, 34, 41, 48, 56, 65]], [45, [2, 6, 11, 17, 23, 29, 36, 43, 51, 60, 70, 83, 105, 149]],
  [46, [1, 5, 10, 16, 22, 28, 35, 42, 50, 57]], [47, [2, 7, 12, 18, 24, 30, 37, 45, 53, 62, 77, 89, 136]],
  [48, [1, 6, 11, 16, 22, 28, 34, 41, 48, 55]], [49, [2, 6, 11, 17, 23, 30, 37, 44, 52, 60, 66, 83, 140]],
  [50, [1, 5, 10, 16, 22, 28, 35, 42, 49, 56]], [51, [2, 7, 12, 17, 23, 29, 36, 43, 50, 60]],
  [52, [1, 6, 11, 16, 22, 28, 34, 40, 47, 55, 89, 102]], [53, [2, 6, 11, 17, 23, 29, 35, 42, 50, 59]],
  [54, [1, 5, 10, 16, 22, 28, 34, 41, 48, 56, 131]], [55, [2, 7, 12, 18, 24, 30, 37, 44, 52, 63, 75, 101]],
  [56, [1, 6, 11, 16, 22, 28, 34, 41, 48, 161]], [57, [2, 6, 11, 17, 23, 29, 35, 42, 49, 133, 136]],
  [58, [1, 5, 10, 15, 21, 27, 33, 40, 47, 55]], [59, [2, 7, 12, 17, 23, 29, 35, 42, 79, 92]],
  [60, [1, 6, 11, 16, 21, 27, 33, 39, 46]], [61, [2, 6, 11, 16, 22, 28, 34, 40, 72, 81]],
  [62, [1, 5, 10, 15, 21, 27, 33, 40, 48, 64]], [63, [2, 7, 12, 17, 23, 29, 35, 42]],
  [64, [1, 6, 11, 16, 21, 27, 33, 39, 45, 91, 104, 110]], [65, [2, 6, 11, 16, 22, 28, 34, 41, 50]],
  [66, [1, 5, 10, 15, 20, 26, 32, 38]], [67, [2, 7, 12, 17, 22, 28, 34, 41]],
  [68, [1, 6, 11, 16, 21, 27, 33, 114]], [69, [2, 6, 11, 16, 21, 27, 33, 39]],
  [70, [1, 5, 10, 15, 20, 26, 32, 38, 44]], [71, [2, 7, 11, 16, 21, 27, 33]],
  [72, [1, 6, 10, 15, 20, 25, 31, 40, 86, 91]], [73, [2, 6, 11, 15, 20, 26, 39]],
  [74, [1, 5, 10, 15, 20, 25, 30, 41]], [75, [2, 7, 11, 16, 21, 26, 31]],
  [76, [1, 6, 10, 15, 20, 25, 52]], [77, [2, 6, 11, 15, 20, 25]],
  [78, [1, 5, 10, 15, 19, 24, 35]], [79, [2, 7, 11, 15, 20, 24]],
  [80, [1, 6, 10, 14, 19, 24, 30]], [81, [2, 6, 10, 15, 19, 26, 63]],
  [82, [1, 5, 9, 14, 18, 23]], [83, [2, 6, 10, 14, 19, 24, 48, 54]],
  [84, [1, 5, 9, 13, 18, 22]], [85, [2, 6, 10, 14, 18, 23, 28]],
  [86, [1, 5, 9, 13, 17, 22, 27, 33, 53, 57]], [87, [2, 6, 10, 14, 18, 22]],
  [88, [1, 5, 9, 13, 17, 21, 26, 31, 37, 42, 53, 56, 65]], [89, [2, 6, 10, 14, 18, 23]],
  [90, [1, 5, 9, 13, 17, 22]], [91, [2, 6, 10, 14, 18, 22, 27, 33, 40, 52, 66]],
  [92, [1, 5, 9, 13, 17]], [93, [2, 6, 10, 14, 18, 22, 27]],
  [94, [1, 5, 9, 13, 17, 21, 25, 29, 33, 37, 41, 52, 70, 76, 81, 87, 106, 114]],
];
const cloudD2: [number, number[]][] = [
  [30.5, [3, 8, 12, 17, 22, 27, 33, 44]], [31.5, [3, 7, 13, 18, 24, 30, 37, 48]], [32.5, [4, 8, 13, 18, 25, 31, 39]],
  [33.5, [3, 9, 14, 19, 26, 33, 40, 52]], [34.5, [4, 8, 13, 19, 25, 32, 39, 47]], [35.5, [3, 9, 14, 20, 27, 33, 40, 50]],
  [36.5, [3, 8, 13, 19, 25, 31, 38, 45, 57]], [37.5, [4, 9, 14, 20, 26, 32, 39, 47, 55]],
  [38.5, [3, 8, 13, 18, 24, 30, 37, 44, 51]], [39.5, [4, 9, 15, 21, 27, 34, 41, 48]],
  [40.5, [3, 8, 14, 19, 25, 31, 38, 46, 54]], [41.5, [4, 9, 14, 20, 26, 33, 40, 48]],
  [42.5, [3, 8, 13, 19, 25, 31, 38, 46, 55]], [43.5, [4, 9, 15, 20, 26, 33, 40, 49]],
  [44.5, [3, 8, 14, 19, 25, 31, 37, 45, 52]], [45.5, [4, 9, 14, 20, 26, 32, 39, 47, 56]],
  [46.5, [3, 8, 13, 19, 25, 31, 38, 45]], [47.5, [4, 9, 15, 21, 27, 33, 40, 49]],
  [48.5, [3, 8, 14, 19, 25, 31, 37, 44, 52]], [49.5, [4, 9, 14, 20, 26, 33, 40, 48]],
  [50.5, [3, 8, 13, 19, 25, 31, 38, 45]], [51.5, [4, 9, 15, 20, 26, 32, 39, 46]],
  [52.5, [3, 8, 14, 19, 25, 31, 37, 44]], [53.5, [4, 9, 14, 20, 26, 32, 38, 46]],
  [54.5, [3, 8, 13, 19, 25, 31, 37, 44]], [55.5, [4, 9, 15, 21, 27, 33, 40, 48]],
  [56.5, [3, 8, 14, 19, 25, 31, 37]], [57.5, [4, 9, 14, 20, 26, 32, 38, 45]],
  [58.5, [3, 8, 13, 18, 24, 30, 36, 43]], [59.5, [4, 9, 14, 19, 25, 31, 37]],
  [60.5, [3, 8, 13, 18, 24, 30, 36]], [61.5, [4, 9, 14, 19, 25, 31, 37]],
  [62.5, [3, 8, 13, 18, 24, 30, 36, 44]], [63.5, [4, 9, 14, 19, 25, 31]],
  [64.5, [3, 8, 13, 18, 24, 30, 36]], [65.5, [4, 9, 14, 19, 25, 31, 38]],
  [66.5, [3, 8, 13, 18, 23, 29, 35]], [67.5, [4, 9, 14, 19, 24, 30]],
  [68.5, [3, 8, 13, 18, 24, 30, 36]], [69.5, [4, 9, 14, 19, 24, 30]],
  [70.5, [3, 8, 12, 17, 23, 29, 35]], [71.5, [4, 8, 13, 18, 23, 29]],
  [72.5, [3, 8, 12, 17, 22, 28]], [73.5, [4, 8, 13, 18, 23, 28, 34]],
  [74.5, [3, 7, 12, 17, 22, 27]], [75.5, [4, 8, 13, 18, 23, 28]],
  [76.5, [3, 7, 12, 17, 22, 27]], [77.5, [4, 8, 13, 18, 22]],
  [78.5, [3, 7, 12, 17, 21, 26]], [79.5, [4, 8, 13, 17, 22]],
  [80.5, [3, 7, 12, 16, 21, 26]], [81.5, [4, 8, 12, 17, 21]],
  [82.5, [3, 7, 11, 16, 20, 25]], [83.5, [4, 8, 12, 16, 21]],
  [84.5, [3, 7, 11, 16, 20]], [85.5, [4, 8, 12, 16, 20, 25]],
  [86.5, [3, 7, 11, 15, 19]], [87.5, [4, 8, 12, 16, 20, 24, 29]],
  [88.5, [3, 7, 11, 15, 19, 24]], [89.5, [4, 8, 12, 16, 20]],
  [90.5, [3, 7, 11, 15, 19]], [91.5, [4, 8, 12, 16, 20, 25]],
  [92.5, [3, 7, 11, 15, 19]], [93.5, [4, 8, 12, 16, 20, 24, 30, 35]],
];
const meanRhD = [35.6, 45.3, 55.2, 64.9, 74.8, 84.8, 92.8];
const meanD = [20.5, 20.9, 18.5, 13.0, 9.3, 8.8, 12.5];
const sdD = [26.3, 27, 32.5, 15.3, 9.7, 10, 16.6];
const sdRhD = [2.8, 3.0, 2.9, 3.0, 2.9, 2.95, 1.25];

// ── (e) ALWC, T>15 °C ───────────────────────────────────────────────────────
const cloudE: [number, number[]][] = [
  [30, [1, 5, 9]], [31, [2, 6, 10]], [32, [1, 5, 9, 13]], [33, [2, 6, 10, 14]], [34, [1, 5, 9, 13]],
  [35, [2, 6, 10, 14]], [36, [1, 5, 9, 13, 17]], [37, [2, 6, 10, 14, 18]], [38, [1, 5, 9, 13, 17]],
  [39, [2, 6, 10, 14, 18, 21]], [40, [1, 5, 9, 13, 17, 21]], [41, [2, 6, 10, 14, 18, 22]],
  [42, [1, 5, 9, 13, 18, 22, 26]], [43, [2, 6, 10, 14, 18, 23, 28]], [44, [1, 5, 9, 14, 19, 24, 28]],
  [45, [2, 6, 10, 15, 20, 25]], [46, [1, 5, 10, 15, 20, 25, 30]], [47, [2, 6, 11, 16, 21, 26, 35]],
  [48, [1, 6, 11, 16, 21, 26, 31]], [49, [2, 7, 12, 17, 22, 27, 32]], [50, [1, 6, 11, 16, 22, 28, 36]],
  [51, [2, 7, 12, 17, 23, 29, 35]], [52, [1, 6, 11, 17, 23, 29, 35, 40]], [53, [2, 7, 13, 19, 25, 31, 37, 41]],
  [54, [1, 6, 12, 18, 24, 30, 36]], [55, [2, 7, 13, 19, 25, 31, 38]], [56, [1, 7, 13, 19, 25, 31, 38, 46]],
  [57, [2, 8, 14, 20, 26, 33, 40]], [58, [1, 7, 13, 19, 26, 33, 40, 45]], [59, [2, 8, 14, 21, 28, 35, 42]],
  [60, [1, 7, 14, 21, 28, 35, 42, 50]], [61, [2, 8, 15, 22, 29, 36, 44, 52]], [62, [1, 7, 14, 21, 28, 36, 44]],
  [63, [2, 8, 15, 22, 30, 38, 46, 51]], [64, [1, 8, 15, 23, 31, 39, 47, 58]], [65, [2, 9, 16, 24, 32, 40, 48, 62]],
  [66, [1, 8, 15, 23, 31, 40]], [67, [2, 9, 17, 25, 33, 42, 50, 60]], [68, [1, 8, 16, 24, 33, 42, 50]],
  [69, [2, 9, 17, 26, 35, 44, 53, 80]], [70, [1, 8, 16, 25, 34, 43, 52, 65]], [71, [2, 9, 18, 27, 36, 45, 55]],
  [72, [1, 9, 17, 26, 35, 44, 53, 87]], [73, [2, 10, 19, 28, 37, 47, 60, 78]], [74, [1, 9, 18, 27, 36, 45, 54, 76]],
  [75, [2, 10, 19, 28, 38, 48, 52, 110, 116]], [76, [1, 9, 18, 27, 36, 46, 52]], [77, [2, 10, 19, 29, 39, 50, 92]],
  [78, [1, 9, 18, 27, 37, 47, 60, 93, 130, 139]], [79, [2, 10, 19, 28, 38, 48]],
  [80, [1, 9, 18, 27, 37, 47, 57, 68, 78, 113]], [81, [2, 10, 19, 29, 39, 50, 60, 70]],
  [82, [1, 9, 18, 28, 38, 48, 58, 70, 80, 125]], [83, [2, 10, 20, 30, 40, 50, 60, 70, 80, 90, 118]],
  [84, [1, 9, 18, 28, 38, 48, 58, 68]],
  [85, [2, 10, 18, 26, 34, 42, 50, 58, 66, 74, 82, 90, 100, 112, 155, 172, 185, 198]],
  [86, [1, 9, 18, 27, 36, 46, 56, 66, 78]], [87, [2, 10, 19, 28, 37, 46, 56]],
  [88, [1, 8, 15, 22, 29, 36, 43, 50, 57, 64, 71, 78, 85, 92, 99, 106, 125, 135, 153, 205, 220, 300]],
  [89, [2, 10, 19, 28, 38, 50, 62, 75, 90, 105]], [90, [1, 9, 18, 28, 40, 55]],
  [91, [2, 9, 16, 23, 30, 37, 44, 51, 58, 65, 72, 79, 86, 93, 100, 107, 114, 121, 128, 135, 142, 175, 228, 350]],
  [92, [1, 10, 20, 35]], [93, [2, 12, 25, 40]],
  [94, [3, 10, 17, 24, 31, 38, 45, 52, 59, 66, 73, 80, 87, 94, 101, 108, 115, 122, 129, 136, 143, 150, 157, 165, 175, 185, 195, 200, 205, 210, 230, 235, 255, 270, 282, 295, 302, 325, 332, 340]],
];
const cloudE2: [number, number[]][] = [
  [30.5, [3, 7, 11]], [31.5, [3, 8, 12]], [32.5, [3, 7, 11]], [33.5, [4, 8, 12, 16]], [34.5, [3, 7, 11, 15]],
  [35.5, [4, 8, 12, 16]], [36.5, [3, 7, 11, 15]], [37.5, [4, 8, 12, 16]], [38.5, [3, 7, 11, 15, 19]],
  [39.5, [4, 8, 12, 16]], [40.5, [3, 8, 13, 18, 23]], [41.5, [4, 8, 13, 18]], [42.5, [3, 8, 13, 18, 23]],
  [43.5, [4, 9, 14, 19, 24]], [44.5, [3, 8, 13, 18, 23]], [45.5, [4, 9, 14, 19, 24, 29]],
  [46.5, [3, 8, 13, 18, 23]], [47.5, [4, 9, 14, 19, 24, 29]], [48.5, [3, 8, 13, 18, 24]],
  [49.5, [4, 9, 14, 19, 25, 30]], [50.5, [4, 9, 15, 21, 27, 33]], [51.5, [4, 10, 15, 21, 27]],
  [52.5, [4, 9, 15, 21, 27, 33]], [53.5, [5, 10, 16, 22, 28, 34]], [54.5, [4, 9, 15, 21, 27, 33]],
  [55.5, [5, 10, 16, 22, 28, 35]], [56.5, [4, 10, 16, 22, 29, 35]], [57.5, [5, 11, 17, 23, 30, 37]],
  [58.5, [4, 10, 16, 23, 30, 37]], [59.5, [5, 11, 17, 24, 31, 38]], [60.5, [4, 11, 18, 26, 34, 43]],
  [61.5, [5, 12, 19, 26, 34]], [62.5, [4, 11, 18, 26, 34, 43]], [63.5, [5, 12, 19, 27, 35, 44]],
  [64.5, [4, 11, 19, 27, 35, 43]], [65.5, [5, 12, 20, 28, 36, 45]], [66.5, [4, 12, 19, 27, 36, 45]],
  [67.5, [5, 13, 21, 29, 38]], [68.5, [4, 12, 20, 28, 37, 46]], [69.5, [5, 13, 21, 30, 39, 48]],
  [70.5, [5, 13, 22, 31, 41, 50]], [71.5, [6, 14, 23, 32, 41]], [72.5, [5, 13, 22, 31, 40, 49]],
  [73.5, [6, 14, 23, 33, 42, 51]], [74.5, [5, 14, 23, 32, 41, 50]], [75.5, [6, 15, 24, 33, 43]],
  [76.5, [5, 14, 23, 32, 42, 51]], [77.5, [6, 15, 24, 34, 44]], [78.5, [5, 14, 23, 32, 42, 52]],
  [79.5, [6, 15, 24, 33, 43, 53]], [80.5, [5, 14, 23, 33, 43, 55]], [81.5, [6, 15, 24, 34, 45]],
  [82.5, [5, 14, 23, 33, 43, 55, 65]], [83.5, [6, 15, 25, 35, 45, 56]], [84.5, [5, 14, 23, 33, 43, 55, 68]],
  [85.5, [6, 15, 25, 35, 46, 58]], [86.5, [5, 14, 23, 33, 43, 55]], [87.5, [6, 15, 25, 35, 46]],
  [88.5, [5, 14, 23, 33, 43, 55, 70]], [89.5, [6, 15, 25, 36, 48]], [90.5, [5, 15, 25, 38, 50]],
  [91.5, [6, 16, 27, 40, 52]], [92.5, [5, 15, 25, 38, 50]], [93.5, [6, 16, 27, 40, 55, 70]],
];
const meanRhE = [35.6, 45.2, 55.0, 64.9, 74.8, 84.9, 92.9];
const meanE = [4.7, 7.8, 13.1, 18.5, 24.6, 37, 87.6];
const sdE = [3, 6.7, 11, 14, 22, 38.5, 90];
const sdRhE = [2.9, 3.0, 2.9, 2.9, 2.7, 2.9, 1.45];

// ── (f) pH, T>15 °C ─────────────────────────────────────────────────────────
const cloudF: [number, number[]][] = [
  [30, [1.6, 1.75, 1.9, 2.05, 2.2, 2.5, 2.6, 3.5, 1.38, 4.5, 4.55, 4.83, 5.55]],
  [31, [1.5, 1.7, 1.85, 2.0, 2.15, 2.3, 2.6, 2.95, 3.8, 1.23, 4.7]],
  [32, [1.65, 1.8, 1.95, 2.1, 2.25, 2.4, 2.7, 3.0, 3.35, 4.45, 4.57]],
  [33, [1.5, 1.65, 1.8, 1.95, 2.1, 2.25, 2.4, 2.6, 2.9, 3.2, 3.5, 3.9]],
  [34, [1.55, 1.7, 1.85, 2.0, 2.15, 2.3, 2.5, 2.75, 3.1, 3.4, 3.8, 4.62]],
  [35, [1.6, 1.75, 1.9, 2.05, 2.2, 2.35, 2.55, 2.8, 3.0, 3.3, 3.6, 1.22, 4.35]],
  [36, [1.7, 1.85, 2.0, 2.15, 2.3, 2.5, 2.7, 3.0, 3.3, 3.6, 1.36, 4.77]],
  [37, [1.6, 1.75, 1.9, 2.05, 2.2, 2.35, 2.55, 2.75, 3.1, 3.5, 3.95, 4.55]],
  [38, [1.5, 1.7, 1.85, 2.0, 2.15, 2.3, 2.5, 2.7, 2.95, 3.25, 3.7, 4.1]],
  [39, [1.35, 1.55, 1.7, 1.85, 2.0, 2.15, 2.3, 2.5, 2.75, 3.0, 3.4, 3.8, 4.15]],
  [40, [1.42, 1.65, 1.8, 1.95, 2.1, 2.25, 2.4, 2.6, 2.85, 3.1, 3.5, 3.9]],
  [41, [1.08, 1.5, 1.7, 1.85, 2.0, 2.15, 2.3, 2.5, 2.75, 3.0, 3.3, 3.7, 4.05, 4.65, 4.9]],
  [42, [1.28, 1.6, 1.8, 1.95, 2.1, 2.25, 2.4, 2.6, 2.8, 3.05, 3.4, 3.8, 4.0]],
  [43, [1.55, 1.75, 1.9, 2.05, 2.2, 2.35, 2.55, 2.75, 3.0, 3.3, 3.6, 4.3, 4.7, 4.75]],
  [44, [1.27, 1.5, 1.7, 1.9, 2.05, 2.2, 2.4, 2.6, 2.85, 3.1, 3.45, 3.85]],
  [45, [1.6, 1.8, 2.0, 2.15, 2.3, 2.5, 2.7, 2.95, 3.2, 3.5, 3.8, 4.1]],
  [46, [1.4, 1.65, 1.85, 2.05, 2.25, 2.45, 2.65, 2.9, 3.15, 3.45, 3.75, 4.15]],
  [47, [1.25, 1.7, 1.9, 2.1, 2.3, 2.5, 2.7, 2.95, 3.2, 3.5, 3.85, 4.38]],
  [48, [1.75, 1.95, 2.15, 2.35, 2.55, 2.75, 3.0, 3.25, 3.55, 3.9, 4.82]],
  [49, [1.6, 1.85, 2.05, 2.25, 2.45, 2.65, 2.9, 3.15, 3.4, 3.7, 4.0, 4.55]],
  [50, [1.6, 1.9, 2.1, 2.3, 2.5, 2.7, 2.95, 3.2, 3.45, 3.75, 4.05, 4.2]],
  [51, [1.8, 2.0, 2.2, 2.4, 2.6, 2.85, 3.1, 3.35, 3.6, 3.9, 4.25]],
  [52, [1.56, 1.9, 2.1, 2.3, 2.5, 2.75, 3.0, 3.25, 3.5, 3.8, 4.1, 4.5]],
  [53, [1.95, 2.15, 2.35, 2.55, 2.8, 3.05, 3.3, 3.55, 3.85, 4.15, 4.35]],
  [54, [1.8, 2.05, 2.25, 2.45, 2.7, 2.95, 3.2, 3.45, 3.75, 4.05, 4.25]],
  [55, [1.9, 2.1, 2.3, 2.55, 2.8, 3.05, 3.3, 3.55, 3.8, 4.1, 4.25]],
  [56, [1.65, 2.0, 2.2, 2.45, 2.7, 2.95, 3.2, 3.45, 3.7, 4.0, 4.18]],
  [57, [1.7, 2.05, 2.3, 2.55, 2.8, 3.05, 3.3, 3.55, 3.8, 4.05, 4.5, 4.6, 4.92]],
  [58, [1.85, 2.1, 2.35, 2.6, 2.85, 3.1, 3.35, 3.6, 3.85, 4.1]],
  [59, [1.8, 2.15, 2.4, 2.65, 2.9, 3.15, 3.4, 3.65, 3.9, 4.55]],
  [60, [2.0, 2.25, 2.5, 2.75, 3.0, 3.25, 3.5, 3.75, 4.0]],
  [61, [2.1, 2.35, 2.6, 2.85, 3.1, 3.35, 3.6, 3.85, 4.33]],
  [62, [1.7, 2.05, 2.3, 2.55, 2.8, 3.05, 3.3, 3.55, 3.8, 3.95]],
  [63, [2.15, 2.4, 2.65, 2.9, 3.15, 3.4, 3.65, 3.9]],
  [64, [2.1, 2.35, 2.6, 2.85, 3.1, 3.35, 3.6, 3.85, 4.1]],
  [65, [1.9, 2.2, 2.45, 2.7, 2.95, 3.2, 3.45, 3.7, 3.95, 4.15]],
  [66, [1.9, 2.3, 2.55, 2.8, 3.05, 3.3, 3.55, 3.8, 4.05]],
  [67, [2.4, 2.6, 2.85, 3.1, 3.35, 3.6, 3.85, 4.1]],
  [68, [2.15, 2.45, 2.7, 2.95, 3.2, 3.45, 3.7, 3.95]],
  [69, [2.3, 2.55, 2.8, 3.05, 3.3, 3.55, 3.8, 4.0]],
  [70, [1.93, 2.4, 2.65, 2.9, 3.15, 3.4, 3.65, 3.9, 4.05]],
  [71, [2.5, 2.75, 3.0, 3.25, 3.5, 3.75, 4.0]],
  [72, [2.25, 2.55, 2.8, 3.05, 3.3, 3.55, 3.8, 3.95]],
  [73, [2.45, 2.7, 2.95, 3.2, 3.45, 3.7, 3.9, 4.05]],
  [74, [2.6, 2.85, 3.1, 3.35, 3.6, 3.85, 4.05]],
  [75, [2.55, 2.8, 3.05, 3.3, 3.55, 3.8, 4.0]],
  [76, [2.65, 2.9, 3.15, 3.4, 3.65, 3.9, 4.05]],
  [77, [2.75, 3.0, 3.25, 3.5, 3.75, 4.0, 4.25]],
  [78, [2.6, 2.9, 3.15, 3.4, 3.65, 3.9, 4.1]],
  [79, [2.8, 3.05, 3.3, 3.55, 3.8, 4.0]],
  [80, [2.7, 2.95, 3.2, 3.45, 3.7, 3.95, 4.15]],
  [81, [2.4, 2.9, 3.15, 3.4, 3.65, 3.9, 4.1]],
  [82, [1.86, 2.85, 3.05, 3.25, 3.45, 3.65, 3.85, 4.05, 4.15]],
  [83, [2.35, 2.55, 2.9, 3.1, 3.3, 3.5, 3.7, 3.9, 4.1]],
  [84, [3.0, 3.2, 3.4, 3.6, 3.8, 4.0, 4.15]],
  [85, [2.08, 2.9, 3.1, 3.3, 3.5, 3.7, 3.9, 4.1, 4.2]],
  [86, [3.0, 3.2, 3.4, 3.6, 3.8, 4.0, 4.15]],
  [87, [3.05, 3.25, 3.45, 3.65, 3.85, 4.05, 4.2]],
  [88, [2.2, 2.3, 2.5, 3.0, 3.15, 3.3, 3.45, 3.6, 3.75, 3.9, 4.05, 4.2, 4.27]],
  [89, [3.1, 3.3, 3.5, 3.7, 3.9, 4.1]],
  [90, [3.2, 3.4, 3.6, 3.8, 4.0, 4.2]],
  [91, [2.8, 3.0, 3.15, 3.3, 3.45, 3.6, 3.75, 3.9, 4.05, 4.2, 4.33]],
  [92, [3.3, 3.5, 3.7, 3.9, 4.1, 4.3]],
  [93, [3.35, 3.5, 3.65, 3.8, 3.95, 4.1, 4.25]],
  [94, [3.3, 3.45, 3.6, 3.75, 3.9, 4.05, 4.2, 4.35, 4.5]],
];
const cloudF2: [number, number[]][] = [
  [30.5, [1.7, 1.85, 2.0, 2.15, 2.35, 2.55]], [31.5, [1.6, 1.75, 1.9, 2.05, 2.2, 2.4, 2.8]],
  [32.5, [1.55, 1.7, 1.85, 2.0, 2.15, 2.3, 2.5, 2.85]], [33.5, [1.6, 1.75, 1.9, 2.05, 2.2, 2.35, 2.5, 2.75, 3.05, 3.7]],
  [34.5, [1.65, 1.8, 1.95, 2.1, 2.25, 2.4, 2.6, 2.9, 3.25]], [35.5, [1.7, 1.85, 2.0, 2.15, 2.3, 2.45, 2.65, 2.9, 3.15, 3.45]],
  [36.5, [1.65, 1.8, 1.95, 2.1, 2.25, 2.4, 2.6, 2.85, 3.15, 3.45, 3.8]],
  [37.5, [1.55, 1.7, 1.85, 2.0, 2.15, 2.3, 2.45, 2.65, 2.9, 3.3, 3.7]],
  [38.5, [1.6, 1.75, 1.9, 2.05, 2.2, 2.4, 2.6, 2.85, 3.1, 3.55]],
  [39.5, [1.5, 1.65, 1.8, 1.95, 2.1, 2.25, 2.4, 2.6, 2.9, 3.2, 3.6]],
  [40.5, [1.55, 1.7, 1.85, 2.0, 2.15, 2.3, 2.5, 2.7, 2.95, 3.3, 3.7]],
  [41.5, [1.6, 1.75, 1.9, 2.05, 2.2, 2.4, 2.6, 2.85, 3.15, 3.5]],
  [42.5, [1.7, 1.85, 2.0, 2.15, 2.3, 2.5, 2.7, 2.95, 3.25, 3.6]],
  [43.5, [1.65, 1.8, 1.95, 2.1, 2.25, 2.45, 2.65, 2.9, 3.15, 3.45, 3.8]],
  [44.5, [1.6, 1.8, 1.95, 2.1, 2.3, 2.5, 2.7, 2.95, 3.25, 3.6, 4.0]],
  [45.5, [1.7, 1.9, 2.05, 2.2, 2.4, 2.6, 2.8, 3.05, 3.35, 3.65, 3.95]],
  [46.5, [1.75, 1.95, 2.15, 2.35, 2.55, 2.75, 3.0, 3.3, 3.6, 3.9]],
  [47.5, [1.8, 2.0, 2.2, 2.4, 2.6, 2.8, 3.05, 3.35, 3.65, 4.0]],
  [48.5, [1.85, 2.05, 2.25, 2.45, 2.65, 2.9, 3.1, 3.4, 3.7, 4.05]],
  [49.5, [1.75, 1.95, 2.15, 2.35, 2.55, 2.8, 3.05, 3.3, 3.55, 3.85, 4.15]],
  [50.5, [1.8, 2.0, 2.2, 2.4, 2.6, 2.85, 3.1, 3.35, 3.6, 3.9]],
  [51.5, [1.9, 2.1, 2.3, 2.5, 2.75, 3.0, 3.25, 3.5, 3.75, 4.0]],
  [52.5, [2.0, 2.2, 2.4, 2.65, 2.9, 3.15, 3.4, 3.65, 3.95]],
  [53.5, [1.85, 2.05, 2.25, 2.45, 2.7, 2.95, 3.2, 3.45, 3.7, 4.0]],
  [54.5, [1.95, 2.15, 2.35, 2.6, 2.85, 3.1, 3.35, 3.6, 3.9, 4.15]],
  [55.5, [2.0, 2.2, 2.45, 2.7, 2.95, 3.2, 3.45, 3.7, 3.95]],
  [56.5, [1.9, 2.1, 2.35, 2.6, 2.85, 3.1, 3.35, 3.6, 3.85, 4.1]],
  [57.5, [1.95, 2.2, 2.45, 2.7, 2.95, 3.2, 3.45, 3.7, 3.95]],
  [58.5, [2.0, 2.25, 2.5, 2.75, 3.0, 3.25, 3.5, 3.75, 4.0]],
  [59.5, [2.05, 2.3, 2.55, 2.8, 3.05, 3.3, 3.55, 3.8]],
  [60.5, [2.1, 2.35, 2.6, 2.85, 3.1, 3.35, 3.6, 3.85, 4.1]],
  [61.5, [2.2, 2.45, 2.7, 2.95, 3.2, 3.45, 3.7, 3.95]],
  [62.5, [2.15, 2.4, 2.65, 2.9, 3.15, 3.4, 3.65, 3.9, 4.05]],
  [63.5, [2.25, 2.5, 2.75, 3.0, 3.25, 3.5, 3.75, 4.0]],
  [64.5, [2.2, 2.45, 2.7, 2.95, 3.2, 3.45, 3.7, 3.95]],
  [65.5, [2.3, 2.55, 2.8, 3.05, 3.3, 3.55, 3.8, 4.05]],
  [66.5, [2.45, 2.7, 2.95, 3.2, 3.45, 3.7, 3.95]],
  [67.5, [2.3, 2.55, 2.8, 3.05, 3.3, 3.55, 3.8, 4.0]],
  [68.5, [2.4, 2.65, 2.9, 3.15, 3.4, 3.65, 3.9]],
  [69.5, [2.5, 2.75, 3.0, 3.25, 3.5, 3.75, 3.95]],
  [70.5, [2.55, 2.8, 3.05, 3.3, 3.55, 3.8, 4.0]],
  [71.5, [2.4, 2.65, 2.9, 3.15, 3.4, 3.65, 3.9]],
  [72.5, [2.6, 2.85, 3.1, 3.35, 3.6, 3.85, 4.05]],
  [73.5, [2.7, 2.95, 3.2, 3.45, 3.7, 3.95]],
  [74.5, [2.75, 3.0, 3.25, 3.5, 3.75, 4.0]],
  [75.5, [2.7, 2.95, 3.2, 3.45, 3.7, 3.95, 4.1]],
  [76.5, [2.8, 3.05, 3.3, 3.55, 3.8, 4.0]],
  [77.5, [2.9, 3.15, 3.4, 3.65, 3.9, 4.15]],
  [78.5, [2.85, 3.1, 3.35, 3.6, 3.85, 4.05]],
  [79.5, [2.95, 3.2, 3.45, 3.7, 3.95, 4.1]],
  [80.5, [2.85, 3.1, 3.35, 3.6, 3.85, 4.1]],
  [81.5, [3.0, 3.2, 3.4, 3.6, 3.8, 4.0]],
  [82.5, [2.95, 3.15, 3.35, 3.55, 3.75, 3.95, 4.1]],
  [83.5, [3.05, 3.25, 3.45, 3.65, 3.85, 4.05]],
  [84.5, [3.1, 3.3, 3.5, 3.7, 3.9, 4.1]],
  [85.5, [3.05, 3.25, 3.45, 3.65, 3.85, 4.05, 4.2]],
  [86.5, [3.1, 3.3, 3.5, 3.7, 3.9, 4.1]],
  [87.5, [3.15, 3.35, 3.55, 3.75, 3.95, 4.15]],
  [88.5, [3.1, 3.3, 3.5, 3.7, 3.9, 4.1, 4.25]],
  [89.5, [3.2, 3.4, 3.6, 3.8, 4.0, 4.2]],
  [90.5, [3.3, 3.5, 3.7, 3.9, 4.1, 4.3]],
  [91.5, [3.1, 3.25, 3.4, 3.55, 3.7, 3.85, 4.0, 4.15, 4.3]],
  [92.5, [3.4, 3.6, 3.8, 4.0, 4.2]],
  [93.5, [3.4, 3.55, 3.7, 3.85, 4.0, 4.15, 4.3, 4.45]],
];
const meanRhF = [35.6, 45.3, 55.1, 64.9, 74.9, 84.9, 93.0];
const meanF = [2.56, 2.73, 3.0, 3.14, 3.38, 3.57, 3.85];
const sdF = [0.84, 0.77, 0.69, 0.48, 0.4, 0.4, 0.27];
const sdRhF = [2.8, 2.95, 3.0, 3.0, 2.8, 3.0, 1.4];

// ── helpers ─────────────────────────────────────────────────────────────────

function toPoints(...sets: [number, number[]][][]) {
  return sets.flatMap((cols) => cols.flatMap(([x, ys]) => ys.map((y) => ({ x, y }))));
}

function toMeans(rh: number[], m: number[], sd: number[], sdRh: number[], yMin: number) {
  // lower error clipped at the axis floor, like the original
  return rh.map((x, i) => ({
    x,
    y: m[i],
    ex: sdRh[i],
    ey: [Math.min(sd[i], m[i] - yMin), sd[i]],
  }));
}

const dot = (color: string, r: number) => (p: any) =>
  p.cx == null ? <g /> : <circle cx={p.cx} cy={p.cy} r={r} fill={color} />;

type YLab = { base: string; exp?: string; gap: number } | null;

const XTick = (p: any) => {
  const v = p.payload.value;
  const major = v % 10 === 0;
  return (
    <g>
      <line x1={p.x} y1={p.y} x2={p.x} y2={p.y + (major ? 9 : 5)} stroke="#000" strokeWidth={3} />
      {major && (
        <text x={p.x} y={p.y + 50} textAnchor="middle" fontSize={46} fontFamily={FONT} fill="#000">
          {v}
        </text>
      )}
    </g>
  );
};

const makeYTick = (fmt: (v: number) => YLab) => (p: any) => {
  const v = p.payload.value;
  const lab = fmt(v);
  return (
    <g>
      <line x1={p.x} y1={p.y} x2={p.x - (lab ? 9 : 5)} y2={p.y} stroke="#000" strokeWidth={3} />
      {lab && (
        <text x={p.x - lab.gap} y={p.y + 16} textAnchor="end" fontSize={46} fontFamily={FONT} fill="#000">
          {lab.base}
          {lab.exp && (
            <tspan dy={-20} fontSize={30}>
              {lab.exp}
            </tspan>
          )}
        </text>
      )}
    </g>
  );
};

const fmtA = (v: number): YLab =>
  v % 10 !== 0 ? null : v === 0 ? { base: "0", gap: 13 } : { base: `${v / 10}×10`, exp: "-5", gap: 39 };
const fmtD = (v: number): YLab => {
  if (v % 50 !== 0) return null;
  if (v === 0) return { base: "0.0", gap: 11 };
  if (v === 50) return { base: "5.0×10", exp: "-5", gap: 11 };
  return { base: `${(v / 100).toFixed(1)}×10`, exp: "-4", gap: 11 };
};
const fmtStep = (step: number) => (v: number): YLab =>
  Math.abs(v / step - Math.round(v / step)) < 1e-6 ? { base: String(v), gap: 13 } : null;

// ── colours ─────────────────────────────────────────────────────────────────
const RED = { cloud: "#e47a80", mean: "#9b2c4e", line: "#9b2c4e", err: "#9b2c4e" };
const BLUE = { cloud: "#7f86c2", mean: "#4b52a0", line: "#5a60aa", err: "#4b52a0" };
const GREEN = { cloud: "#a0d5b3", mean: "#008c00", line: "#075c3c", err: "#0f8f0f" };

const panels = [
  {
    key: "a", L: 288, T: 26, W: 747, H: 717, yDomain: [0, 55], yTicks: [0, 5, 10, 15, 20, 25, 30, 35, 40, 45, 50],
    fmt: fmtA, cloud: toPoints(cloudA, cloudA2), means: toMeans(meanRhA, meanA, sdA, sdRhA, 0), col: RED,
  },
  {
    key: "b", L: 1249, T: 33, W: 744, H: 714, yDomain: [0, 680],
    yTicks: [0, 50, 100, 150, 200, 250, 300, 350, 400, 450, 500, 550, 600, 650],
    fmt: fmtStep(100), cloud: toPoints(cloudB, cloudB2), means: toMeans(meanRhB, meanB, sdB, sdRhB, 0), col: BLUE,
  },
  {
    key: "c", L: 2187, T: 34, W: 745, H: 716, yDomain: [2, 7], yTicks: [2, 2.5, 3, 3.5, 4, 4.5, 5, 5.5, 6, 6.5, 7],
    fmt: fmtStep(1), cloud: toPoints(cloudC, cloudC2), means: toMeans(meanRhC, meanC, sdC, sdRhC, 2), col: GREEN,
  },
  {
    key: "d", L: 281, T: 987, W: 749, H: 717, yDomain: [0, 200], yTicks: [0, 25, 50, 75, 100, 125, 150, 175, 200],
    fmt: fmtD, cloud: toPoints(cloudD, cloudD2), means: toMeans(meanRhD, meanD, sdD, sdRhD, 0), col: RED,
  },
  {
    key: "e", L: 1249, T: 1010, W: 745, H: 716, yDomain: [0, 400], yTicks: [0, 50, 100, 150, 200, 250, 300, 350, 400],
    fmt: fmtStep(100), cloud: toPoints(cloudE, cloudE2), means: toMeans(meanRhE, meanE, sdE, sdRhE, 0), col: BLUE,
  },
  {
    key: "f", L: 2229, T: 1008, W: 744, H: 716, yDomain: [1, 7],
    yTicks: [1, 1.5, 2, 2.5, 3, 3.5, 4, 4.5, 5, 5.5, 6, 6.5, 7],
    fmt: fmtStep(1), cloud: toPoints(cloudF, cloudF2), means: toMeans(meanRhF, meanF, sdF, sdRhF, 1), col: GREEN,
  },
];

// ── one panel ───────────────────────────────────────────────────────────────

const ML = 270;
const MT = 40;
const MR = 60;
const MB = 70;

function Panel({ cfg }: { cfg: any }) {
  const c = cfg.col;
  const w = cfg.W + ML + MR;
  const h = cfg.H + MT + MB;
  const pos = { position: "absolute" as const, left: cfg.L - ML, top: cfg.T - MT };
  return (
    <>
      {/* base: axes, frame and the raw cloud */}
      <div style={pos}>
        <ScatterChart width={w} height={h} margin={{ top: MT, right: MR, left: 0, bottom: 0 }} style={{ overflow: "visible" }}>
          <XAxis
            type="number"
            dataKey="x"
            domain={[25, 100]}
            ticks={rhTicks}
            interval={0}
            tickSize={0}
            tickMargin={0}
            tickLine={false}
            tick={XTick}
            axisLine={{ stroke: "#000", strokeWidth: 3 }}
            height={MB}
            allowDataOverflow
          />
          <YAxis
            type="number"
            dataKey="y"
            domain={cfg.yDomain}
            ticks={cfg.yTicks}
            interval={0}
            tickSize={0}
            tickMargin={0}
            tickLine={false}
            tick={makeYTick(cfg.fmt)}
            axisLine={{ stroke: "#000", strokeWidth: 3 }}
            width={ML}
            allowDataOverflow
          />
          <Scatter data={cfg.cloud} shape={dot(c.cloud, 5)} isAnimationActive={false} />
          <ReferenceArea
            x1={25}
            x2={100}
            y1={cfg.yDomain[0]}
            y2={cfg.yDomain[1]}
            fill="none"
            fillOpacity={0}
            stroke="#000"
            strokeWidth={3}
            ifOverflow="visible"
          />
        </ScatterChart>
      </div>
      {/* top: binned means with error bars, same plot box */}
      <div style={{ ...pos, pointerEvents: "none" }}>
        <ScatterChart width={w} height={h} margin={{ top: MT, right: MR, left: ML, bottom: MB }} style={{ overflow: "visible" }}>
          <XAxis type="number" dataKey="x" domain={[25, 100]} hide allowDataOverflow />
          <YAxis type="number" dataKey="y" domain={cfg.yDomain} hide allowDataOverflow />
          <Scatter
            data={cfg.means}
            shape={dot(c.mean, 10)}
            line={{ stroke: c.line, strokeWidth: 4.5 }}
            lineType="joint"
            isAnimationActive={false}
          >
            <ErrorBar dataKey="ex" direction="x" width={7} stroke={c.err} strokeWidth={3} isAnimationActive={false} />
            <ErrorBar dataKey="ey" direction="y" width={7} stroke={c.err} strokeWidth={3} isAnimationActive={false} />
          </Scatter>
        </ScatterChart>
      </div>
    </>
  );
}

// ── labels (overlay) ────────────────────────────────────────────────────────

const T_SIZE = 62;
const S_SIZE = 44;

function HairTitle({ x, y }: { x: number; y: number }) {
  return (
    <text x={x} y={y} transform={`rotate(-90 ${x} ${y})`} textAnchor="middle" fontSize={T_SIZE} fontFamily={FONT}>
      H
      <tspan dy={17} fontSize={S_SIZE}>air</tspan>
      <tspan dy={-44} fontSize={S_SIZE}>+</tspan>
      <tspan dy={27}> (μg m</tspan>
      <tspan dy={-24} fontSize={S_SIZE}>−3</tspan>
      <tspan dy={24}>)</tspan>
    </text>
  );
}

function AlwcTitle({ x, y }: { x: number; y: number }) {
  return (
    <text x={x} y={y} transform={`rotate(-90 ${x} ${y})`} textAnchor="middle" fontSize={T_SIZE} fontFamily={FONT}>
      ALWC (μg m
      <tspan dy={-24} fontSize={S_SIZE}>-3</tspan>
      <tspan dy={24}>)</tspan>
    </text>
  );
}

function PhTitle({ x, y }: { x: number; y: number }) {
  return (
    <text x={x} y={y} transform={`rotate(-90 ${x} ${y})`} textAnchor="middle" fontSize={T_SIZE} fontFamily={FONT}>
      pH
    </text>
  );
}

const tags = [
  { t: "(a)", x: 307, y: 96, temp: "T<15 °C", tx: 1010, ty: 89 },
  { t: "(b)", x: 1263, y: 99, temp: "T<15 °C", tx: 1974, ty: 95 },
  { t: "(c)", x: 2199, y: 99, temp: "T<15 °C", tx: 2913, ty: 102 },
  { t: "(d)", x: 300, y: 1048, temp: "T>15 °C", tx: 1010, ty: 1065 },
  { t: "(e)", x: 1271, y: 1061, temp: "T>15 °C", tx: 1972, ty: 1078 },
  { t: "(f)", x: 2238, y: 1064, temp: "T>15 °C", tx: 2960, ty: 1080 },
];

const rhTitles = [
  { x: 661, y: 871 },
  { x: 1621, y: 875 },
  { x: 2559, y: 878 },
  { x: 655, y: 1841 },
  { x: 1621, y: 1861 },
  { x: 2601, y: 1861 },
];

export default function App() {
  return (
    <div style={{ position: "absolute", left: 0, top: 0, width: 3024, height: 1896, background: "#fff", overflow: "hidden" }}>
      {panels.map((p) => (
        <Panel key={p.key} cfg={p} />
      ))}
      <svg
        width={3024}
        height={1896}
        style={{ position: "absolute", left: 0, top: 0, pointerEvents: "none" }}
      >
        <g fill="#000">
          {tags.map((t) => (
            <g key={t.t}>
              <text x={t.x} y={t.y} fontSize={52} fontFamily={FONT}>{t.t}</text>
              <text x={t.tx} y={t.ty} fontSize={52} fontFamily={FONT} textAnchor="end">{t.temp}</text>
            </g>
          ))}
          {rhTitles.map((r, i) => (
            <text key={i} x={r.x} y={r.y} fontSize={T_SIZE} fontFamily={FONT} textAnchor="middle">RH (%)</text>
          ))}
          <HairTitle x={116} y={385} />
          <AlwcTitle x={1147} y={390} />
          <PhTitle x={2134} y={393} />
          <HairTitle x={74} y={1346} />
          <AlwcTitle x={1146} y={1369} />
          <PhTitle x={2174} y={1366} />
        </g>
      </svg>
    </div>
  );
}
